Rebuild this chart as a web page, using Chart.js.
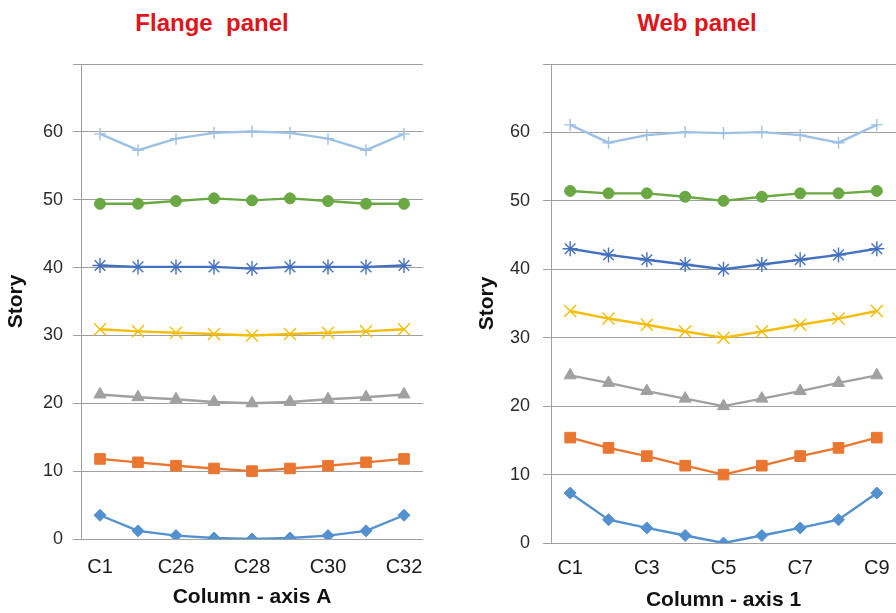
<!DOCTYPE html>
<html>
<head>
<meta charset="utf-8">
<script src="https://cdn.jsdelivr.net/npm/chart.js@4"></script>
<style>
  html, body { margin: 0; padding: 0; background: #fff; overflow: hidden; }
  .panel { position: absolute; top: 0; height: 613px; }
  .ttl { position: absolute; top: 9px; font: bold 24px "Liberation Sans", Arial, sans-serif; color: #e0151c; white-space: pre; transform: translateX(-50%); }
</style>
</head>
<body>
<div class="ttl" style="left:212px">Flange  panel</div>
<div class="ttl" style="left:697px">Web panel</div>
<div class="panel" style="left:0;width:446px"><canvas id="flangeChart"></canvas></div>
<div class="panel" style="left:446px;width:450px"><canvas id="webChart"></canvas></div>
<script>
// category labels
const flangeCols = ["C1", "C25", "C26", "C27", "C28", "C29", "C30", "C31", "C32"];
const webCols = ["C1", "C2", "C3", "C4", "C5", "C6", "C7", "C8", "C9"];

// flange panel, one array per storey line
const flange0 = [3.5, 1.2, 0.5, 0.15, 0, 0.15, 0.5, 1.2, 3.5];
const flange10 = [11.8, 11.3, 10.8, 10.4, 10.0, 10.4, 10.8, 11.3, 11.8];
const flange20 = [21.3, 20.9, 20.6, 20.2, 20.0, 20.2, 20.6, 20.9, 21.3];
const flange30 = [30.9, 30.6, 30.4, 30.2, 30.0, 30.2, 30.4, 30.6, 30.9];
const flange40 = [40.3, 40.1, 40.1, 40.1, 39.85, 40.1, 40.1, 40.1, 40.3];
const flange50 = [49.4, 49.4, 49.8, 50.2, 49.9, 50.2, 49.8, 49.4, 49.4];
const flange60 = [59.7, 57.3, 59.0, 59.85, 60.05, 59.85, 59.0, 57.3, 59.7];

// web panel
const web0 = [7.3, 3.4, 2.2, 1.1, 0, 1.1, 2.2, 3.4, 7.3];
const web10 = [15.4, 13.9, 12.7, 11.3, 10.0, 11.3, 12.7, 13.9, 15.4];
const web20 = [24.5, 23.4, 22.2, 21.1, 20.0, 21.1, 22.2, 23.4, 24.5];
const web30 = [33.9, 32.8, 31.9, 30.9, 30.0, 30.9, 31.9, 32.8, 33.9];
const web40 = [43.0, 42.1, 41.4, 40.7, 40.0, 40.7, 41.4, 42.1, 43.0];
const web50 = [51.45, 51.1, 51.1, 50.6, 50.0, 50.6, 51.1, 51.1, 51.45];
const web60 = [61.1, 58.5, 59.6, 60.05, 59.9, 60.05, 59.6, 58.5, 61.1];

const yTicks = [0, 10, 20, 30, 40, 50, 60, 70];

const seriesStyle = [
    { color: "#5290cf", pointStyle: "rectRot", radius: 6 },
    { color: "#ea7630", pointStyle: "rect", radius: 7.5 },
    { color: "#a0a0a0", pointStyle: "triangle", radius: 7 },
    { color: "#f5bd0a", pointStyle: "crossRot", radius: 8.5 },
    { color: "#4470c0", pointStyle: "star", radius: 7.5 },
    { color: "#6aa844", pointStyle: "circle", radius: 5.5 },
    { color: "#9dc1e4", pointStyle: "cross", radius: 6 }
];

const FONT = "'Liberation Sans', Arial, sans-serif";

function makeDatasets(lines) {
    return lines.map((vals, i) => {
        const s = seriesStyle[i];
        const stroked = s.pointStyle === "cross" || s.pointStyle === "crossRot" || s.pointStyle === "star";
        return {
            data: vals,
            borderColor: s.color,
            backgroundColor: s.color,
            pointBorderColor: s.color,
            pointBackgroundColor: s.color,
            pointStyle: s.pointStyle,
            pointRadius: s.radius,
            pointBorderWidth: stroked ? 1.4 : 1,
            borderWidth: 2.4,
            tension: 0
        };
    });
}

function makeChart(canvasId, cols, lines, opts) {
    const ctx = document.getElementById(canvasId).getContext("2d");
    return new Chart(ctx, {
        type: "line",
        data: { labels: cols, datasets: makeDatasets(lines) },
        options: {
            responsive: true,
            maintainAspectRatio: false,
            animation: false,
            layout: { autoPadding: false, padding: { left: 0, right: opts.padRight, top: 64, bottom: 0 } },
            plugins: { legend: { display: false }, tooltip: { enabled: false } },
            scales: {
                x: {
                    offset: true,
                    grid: { display: false, drawTicks: false },
                    border: { display: false },
                    ticks: {
                        autoSkip: false,
                        maxRotation: 0,
                        padding: opts.xTickPad,
                        color: "#1a1a1a",
                        font: { family: FONT, size: 20 },
                        callback: function (val, i) {
                            return i % 2 === 0 ? this.getLabelForValue(val) : "";
                        }
                    },
                    title: {
                        display: true,
                        text: opts.xTitle,
                        color: "#111",
                        font: { family: FONT, size: 21, weight: "bold" },
                        padding: { top: 0, bottom: opts.xTitlePad }
                    },
                    afterFit: (scale) => {
                        scale.height = opts.xHeight;
                        scale.paddingLeft = 0;
                        scale.paddingRight = 0;
                    }
                },
                y: {
                    min: yTicks[0],
                    max: yTicks[yTicks.length - 1],
                    afterBuildTicks: (scale) => { scale.ticks = yTicks.map(v => ({ value: v })); },
                    grid: { color: "#a0a0a0", lineWidth: 1, tickLength: 8 },
                    border: { display: true, color: "#a0a0a0", width: 1 },
                    ticks: {
                        padding: opts.yTickPad,
                        color: "#2a2a2a",
                        font: { family: FONT, size: 18 },
                        callback: (v) => v === 70 ? "" : v
                    },
                    title: {
                        display: true,
                        text: "Story",
                        color: "#111",
                        font: { family: FONT, size: 21, weight: "bold" },
                        padding: { top: opts.yTitlePad, bottom: 0 }
                    },
                    afterFit: (scale) => { scale.width = opts.yWidth; }
                }
            }
        }
    });
}

makeChart("flangeChart", flangeCols,
    [flange0, flange10, flange20, flange30, flange40, flange50, flange60],
    { padRight: 23, xHeight: 74, yWidth: 81, xTickPad: 16, yTickPad: 10, xTitlePad: 3, yTitlePad: 4, xTitle: "Column - axis A" });

makeChart("webChart", webCols,
    [web0, web10, web20, web30, web40, web50, web60],
    { padRight: 0, xHeight: 70, yWidth: 105, xTickPad: 13, yTickPad: 13, xTitlePad: 0, yTitlePad: 29, xTitle: "Column - axis 1" });
</script>
</body>
</html>
